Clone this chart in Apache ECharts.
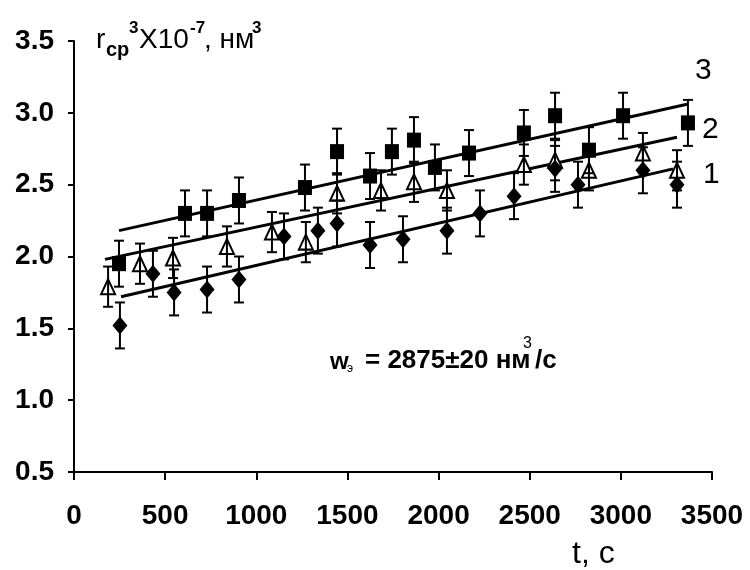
<!DOCTYPE html>
<html>
<head>
<meta charset="utf-8">
<script src="https://cdn.jsdelivr.net/npm/echarts@6/dist/echarts.min.js"></script>
<style>html,body{margin:0;padding:0;background:#fff}#c{width:750px;height:570px}</style>
</head>
<body>
<div id="c"></div>
<script>
// ---- data ----
var xTickLabels = ['0','500','1000','1500','2000','2500','3000','3500'];
var yTickLabels = ['0.5','1.0','1.5','2.0','2.5','3.0','3.5'];

// series 3 (filled squares)
var t3 = [247, 609, 730, 905, 1267, 1443, 1624, 1744, 1865, 1980, 2167, 2468, 2639, 2825, 3012, 3368];
var v3 = [1.95, 2.30, 2.30, 2.39, 2.48, 2.73, 2.56, 2.73, 2.81, 2.62, 2.72, 2.86, 2.98, 2.74, 2.98, 2.93];
var e3 = 0.16;
// series 2 (open triangles)
var t2 = [187, 362, 543, 839, 1086, 1272, 1443, 1684, 1865, 2046, 2468, 2639, 2825, 3121, 3308];
var v2 = [1.79, 1.95, 1.99, 2.07, 2.17, 2.10, 2.44, 2.46, 2.52, 2.46, 2.64, 2.67, 2.60, 2.72, 2.60];
var e2 = 0.14;
// series 1 (filled diamonds)
var t1 = [252, 433, 549, 730, 905, 1152, 1338, 1443, 1624, 1805, 2046, 2227, 2414, 2639, 2765, 3121, 3308];
var v1 = [1.52, 1.88, 1.75, 1.77, 1.84, 2.14, 2.18, 2.23, 2.08, 2.12, 2.18, 2.30, 2.42, 2.61, 2.50, 2.60, 2.50];
var e1 = 0.16;
// fitted straight lines [t, value] at both ends
var fit3 = [[247, 2.18], [3363, 3.06]];
var fit2 = [[170, 1.98], [3308, 2.83]];
var fit1 = [[258, 1.72], [3286, 2.61]];
var lineLabels = ['3', '2', '1'];

var FONT = "'Liberation Sans', Arial, sans-serif";

function pts(t, v) { return t.map(function (x, i) { return [x, v[i]]; }); }
function errPts(t, v, e) { return t.map(function (x, i) { return [x, v[i], e]; }); }

function errRender(params, api) {
  var x = api.value(0), y = api.value(1), e = api.value(2);
  var top = api.coord([x, y + e]);
  var bot = api.coord([x, y - e]);
  var hw = 5;
  var st = { stroke: '#000', lineWidth: 2 };
  return {
    type: 'group',
    children: [
      { type: 'line', shape: { x1: top[0], y1: top[1], x2: bot[0], y2: bot[1] }, style: st },
      { type: 'line', shape: { x1: top[0] - hw, y1: top[1], x2: top[0] + hw, y2: top[1] }, style: st },
      { type: 'line', shape: { x1: bot[0] - hw, y1: bot[1], x2: bot[0] + hw, y2: bot[1] }, style: st }
    ]
  };
}

function fitLine(d) {
  return { type: 'line', data: d, symbol: 'none', silent: true, z: 2,
    lineStyle: { color: '#000', width: 3, opacity: 1 } };
}
function errSeries(t, v, e) {
  return { type: 'custom', renderItem: errRender, data: errPts(t, v, e), z: 5, silent: true,
    encode: { x: 0, y: 1 } };
}

function txt(text, x, y, size, weight) {
  return { type: 'text', x: x, y: y, silent: true,
    style: { text: text, fill: '#000', font: (weight || 'normal') + ' ' + size + 'px ' + FONT,
      align: 'left', verticalAlign: 'middle' } };
}

var chart = echarts.init(document.getElementById('c'), null, { renderer: 'canvas' });
chart.setOption({
  animation: false,
  backgroundColor: '#fff',
  grid: { left: 74, right: 38, top: 41, bottom: 98 },
  xAxis: {
    type: 'value', min: 0, max: 3500, interval: 500,
    splitLine: { show: false },
    axisLine: { lineStyle: { color: '#000', width: 2 } },
    axisTick: { show: true, length: 8, lineStyle: { color: '#000', width: 2 } },
    axisLabel: { margin: 30, color: '#000', fontSize: 28, fontWeight: 'bold', fontFamily: FONT,
      formatter: function (v) { return xTickLabels[Math.round(v / 500)]; } }
  },
  yAxis: {
    type: 'value', min: 0.5, max: 3.5, interval: 0.5,
    splitLine: { show: false },
    axisLine: { show: true, lineStyle: { color: '#000', width: 2 } },
    axisTick: { show: true, length: 6, lineStyle: { color: '#000', width: 2 } },
    axisLabel: { margin: 20, color: '#000', fontSize: 28, fontWeight: 'bold', fontFamily: FONT,
      formatter: function (v) { return yTickLabels[Math.round((v - 0.5) / 0.5)]; } }
  },
  series: [
    fitLine(fit3), fitLine(fit2), fitLine(fit1),
    { type: 'scatter', data: pts(t2, v2), symbol: 'triangle', symbolSize: [14, 15], z: 3,
      itemStyle: { color: '#fff', borderColor: '#000', borderWidth: 2, opacity: 1 } },
    { type: 'scatter', data: pts(t3, v3), symbol: 'rect', symbolSize: [14, 15], z: 4,
      itemStyle: { color: '#000', opacity: 1 } },
    { type: 'scatter', data: pts(t1, v1), symbol: 'diamond', symbolSize: [15, 18], z: 4,
      itemStyle: { color: '#000', opacity: 1 } },
    errSeries(t3, v3, e3), errSeries(t2, v2, e2), errSeries(t1, v1, e1)
  ],
  graphic: [
    // y-axis title  r_cp^3 x10^-7, нм^3
    txt('r', 96, 40, 28),
    txt('cp', 106, 50, 20, 'bold'),
    txt('3', 129, 28, 17, 'bold'),
    txt('X10', 139, 40, 28),
    txt('-7', 190, 28, 17, 'bold'),
    txt(', нм', 204, 40, 28),
    txt('3', 252, 28, 17, 'bold'),
    // line labels
    txt(lineLabels[0], 695, 71, 30),
    txt(lineLabels[1], 702, 130, 30),
    txt(lineLabels[2], 703, 175, 30),
    // annotation
    txt('w', 330, 362, 24, 'bold'),
    txt('э', 347, 369, 12),
    txt('= 2875±20 нм', 365, 361, 26, 'bold'),
    txt('3', 523, 344, 16),
    txt('/c', 535, 361, 26, 'bold'),
    // x-axis title
    txt('t, c', 572, 554, 32)
  ]
});
</script>
</body>
</html>
